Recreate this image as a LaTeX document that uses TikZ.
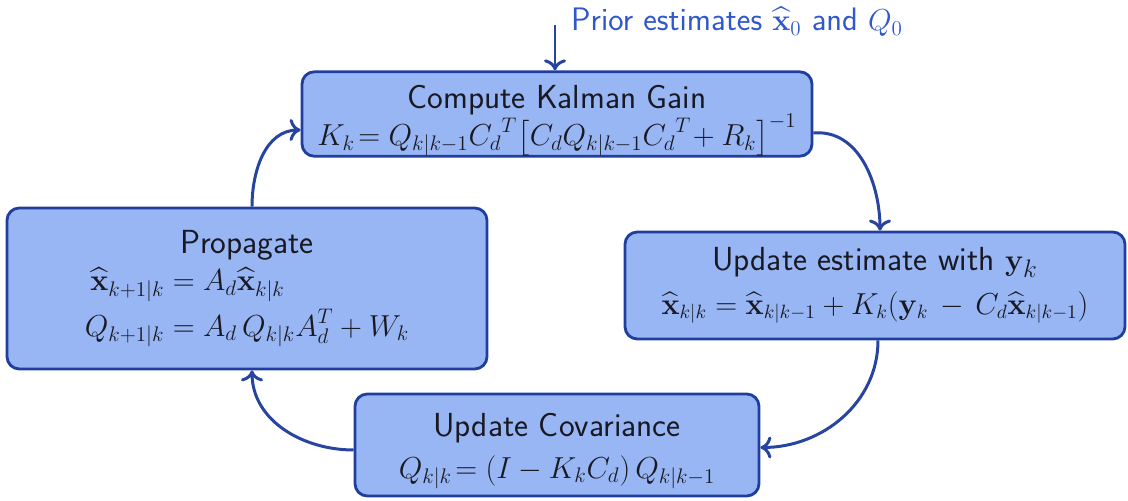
\documentclass[tikz,border=0pt]{standalone}
\usepackage{amsmath,amssymb}
\usepackage{xcolor}
\usepackage{tikz}
\usetikzlibrary{arrows.meta, positioning}
\definecolor{kfill}{RGB}{152,182,244}
\definecolor{kedge}{RGB}{32,62,158}
\definecolor{karrow}{RGB}{38,68,160}
\definecolor{kprior}{RGB}{48,88,205}
\definecolor{ktext}{RGB}{25,25,35}
\newcommand{\eqsize}[1]{\fontsize{#1}{21pt}\selectfont}

\begin{document}
\begin{tikzpicture}[
  every node/.style={font=\sffamily\fontsize{19}{23}\selectfont},
  stage/.style={draw=kedge, line width=1.6pt, fill=kfill, rounded corners=7pt,
    align=center, text=ktext, inner sep=0pt},
  flow/.style={-{To[length=2.2mm, width=4.4mm]}, line width=1.7pt, karrow},
  lab/.style={text=kprior, anchor=west, font=\sffamily\fontsize{18.5}{22}\selectfont}
]
\useasboundingbox (0,0) rectangle (22.56,10.02);
\node[stage, minimum width=10.2cm, minimum height=1.68cm] (gain) at (11.14,7.74)
  {\rule{0pt}{21pt}Compute Kalman Gain\\[-2pt]
   \eqsize{17}$K_k\!= Q_{k|k-1}{C_d}^T\big[C_d Q_{k|k-1}{C_d}^T\!+R_k\big]^{-1}$};
\node[stage, minimum width=10.0cm, minimum height=2.14cm] (upd) at (17.5,4.31)
  {Update estimate with $\mathbf{y}_k$\\[2pt]
   \eqsize{16}$\widehat{\mathbf{x}}_{k|k} = \widehat{\mathbf{x}}_{k|k-1} + K_k(\mathbf{y}_k\, -\, C_d\widehat{\mathbf{x}}_{k|k-1})$};
\node[stage, minimum width=8.08cm, minimum height=2.04cm] (cov) at (11.14,1.12)
  {\rule{0pt}{20pt}Update Covariance\\[1pt]
   \eqsize{16.5}$Q_{k|k}\!=(I-K_kC_d)\,Q_{k|k-1}$};
\node[stage, minimum width=9.6cm, minimum height=3.22cm] (prop) at (4.94,4.25)
  {Propagate\\[2pt]
   \eqsize{18}$\begin{aligned}
     \widehat{\mathbf{x}}_{k+1|k} &= A_d\widehat{\mathbf{x}}_{k|k}\\[0pt]
     Q_{k+1|k} &= A_d\, Q_{k|k} A_d^T + W_k
   \end{aligned}$};
% prior input from above
\coordinate (prior) at (11.1,9.52);
\node[lab] (priorlab) at (11.3,9.58) {Prior estimates $\widehat{\mathbf{x}}_0$ and $Q_0$};
\draw[flow] (prior) -- (prior |- gain.north);
% the loop
\draw[flow] ([yshift=-0.38cm]gain.east) to[out=5, in=90] ([xshift=0.1cm]upd.north);
\draw[flow] ([xshift=0.06cm]upd.south) to[out=-90, in=0] ([yshift=-0.05cm]cov.east);
\draw[flow] ([yshift=-0.1cm]cov.west) to[out=180, in=-90] ([xshift=0.1cm]prop.south);
\draw[flow] ([xshift=0.1cm]prop.north) to[out=90, in=180] ([yshift=-0.32cm]gain.west);
\end{tikzpicture}
\end{document}
